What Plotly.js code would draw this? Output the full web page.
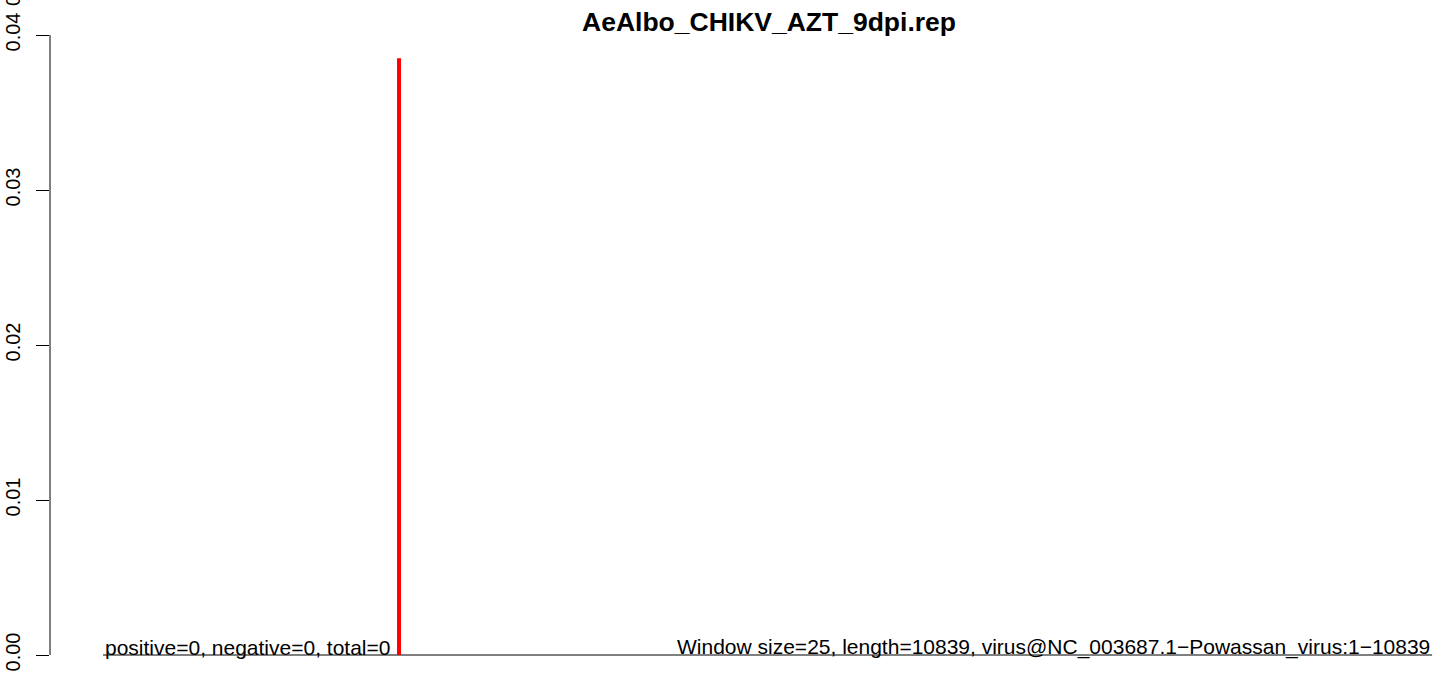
<!DOCTYPE html>
<html><head><meta charset="utf-8">
<script src="https://cdn.plot.ly/plotly-3.0.1.min.js"></script>
<style>html,body{margin:0;padding:0;background:#fff}#chart{width:1444px;height:677px}</style>
</head><body><div id="chart"></div>
<script>
const chartTitle = "AeAlbo_CHIKV_AZT_9dpi.rep";
const genomeStart = 1;
const genomeLength = 10839;
const peakPositions = [2415];
const peakValues = [0.0385];
const yTickValues = [0, 0.01, 0.02, 0.03, 0.04];
const yTickLabels = ["0.00", "0.01", "0.02", "0.03", "0.04"];
const leftNote = "positive=0, negative=0, total=0";
const rightNote = "Window size=25, length=10839, virus@NC_003687.1\u2212Powassan_virus:1\u221210839";

const FONT = "Liberation Sans, Arial, sans-serif";

const traces = [
  { x: [genomeStart, genomeLength], y: [0, 0], mode: "lines", type: "scatter",
    line: { color: "#000", width: 1 }, hoverinfo: "skip", showlegend: false },
];
peakPositions.forEach((p, i) => {
  traces.push({ x: [p, p], y: [0, peakValues[i]], mode: "lines", type: "scatter",
    line: { color: "#ff0000", width: 4 }, hoverinfo: "skip", showlegend: false });
});

const layout = {
  width: 1444, height: 677,
  margin: { l: 50, r: 0, t: 10, b: 0 },
  paper_bgcolor: "#fff", plot_bgcolor: "#fff",
  font: { family: FONT, color: "#000", size: 20 },
  showlegend: false,
  xaxis: { range: [-431, 10936], visible: false, fixedrange: true },
  yaxis: {
    range: [-(677 - 655) / 15500, 0.04 + 25 / 15500],
    tickvals: yTickValues, ticktext: yTickLabels,
    tickangle: -90, ticks: "outside", ticklen: 13, tickwidth: 1, tickcolor: "#000",
    ticklabelstandoff: 8,
    showgrid: false, zeroline: false, showline: false,
    tickfont: { family: FONT, size: 20, color: "#000" }, fixedrange: true
  },
  shapes: [
    { type: "line", xref: "paper", yref: "y", x0: 0, x1: 0,
      y0: yTickValues[0], y1: yTickValues[yTickValues.length - 1],
      line: { color: "#000", width: 1 } }
  ],
  annotations: [
    { text: "<b>" + chartTitle + "</b>", xref: "paper", yref: "paper",
      x: (769 - 50) / 1394, y: 1, yshift: -12, xanchor: "center", yanchor: "middle",
      showarrow: false, font: { family: FONT, size: 26.5, color: "#000" } },
    { text: leftNote, xref: "x", yref: "y", x: genomeStart, y: 0,
      xanchor: "left", yanchor: "bottom", yshift: -6, showarrow: false,
      font: { family: FONT, size: 21, color: "#000" } },
    { text: rightNote, xref: "x", yref: "y", x: genomeLength, y: 0,
      xanchor: "right", yanchor: "bottom", yshift: -6, showarrow: false,
      font: { family: FONT, size: 21, color: "#000" } },
    { text: "0", xref: "paper", yref: "paper", x: -(50 - 13) / 1394, y: 1,
      yshift: 9, textangle: -90, xanchor: "center", yanchor: "middle",
      showarrow: false, font: { family: FONT, size: 20, color: "#000" } }
  ]
};

Plotly.newPlot("chart", traces, layout, { staticPlot: true, displayModeBar: false });
</script></body></html>
